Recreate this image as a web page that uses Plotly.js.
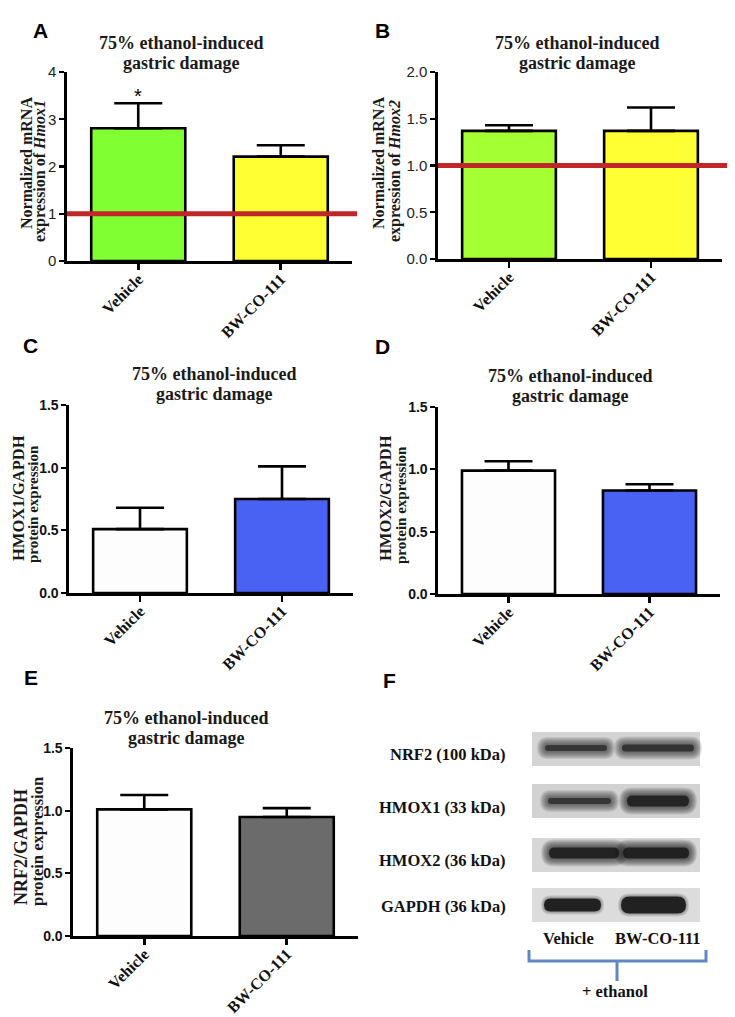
<!DOCTYPE html>
<html>
<head>
<meta charset="utf-8">
<script src="https://cdn.plot.ly/plotly-3.0.1.min.js"></script>
<style>html,body{margin:0;padding:0;background:#fff;}#chart{width:735px;height:1017px;}</style>
</head>
<body>
<div id="chart"></div>
<script>
// ---------------- data ----------------
const categories = ['Vehicle', 'BW-CO-111'];

const hmox1Mrna = [2.81, 2.21];
const hmox1MrnaSem = [0.53, 0.24];
const hmox2Mrna = [1.37, 1.37];
const hmox2MrnaSem = [0.06, 0.25];
const mrnaReference = 1.0;

const hmox1Protein = [0.51, 0.75];
const hmox1ProteinSem = [0.17, 0.26];
const hmox2Protein = [0.99, 0.83];
const hmox2ProteinSem = [0.075, 0.05];
const nrf2Protein = [1.01, 0.95];
const nrf2ProteinSem = [0.115, 0.07];

const blotLabels = ['NRF2 (100 kDa)', 'HMOX1 (33 kDa)', 'HMOX2 (36 kDa)', 'GAPDH (36 kDa)'];
const blotIntensity = [[0.72, 0.76], [0.74, 0.88], [0.9, 0.92], [1.0, 1.0]];
const blotLanes = ['Vehicle', 'BW-CO-111'];
const panelTitle = ['75% ethanol-induced', 'gastric damage'];

// ---------------- helpers ----------------
const W = 735, H = 1017;
const PX = x => x / W;
const PY = y => 1 - y / H;
const SERIF = 'Liberation Serif, Times New Roman, serif';
const SANS = 'Liberation Sans, Arial, sans-serif';

const traces = [];
const shapes = [];
const annotations = [];

function barTrace(ax, vals, sems, colors) {
  return {
    type: 'bar', x: categories, y: vals,
    xaxis: 'x' + ax, yaxis: 'y' + ax,
    width: 0.66,
    marker: {color: colors, line: {color: '#000', width: 2.6}},
    error_y: {type: 'data', symmetric: false, array: sems, arrayminus: sems.map(() => 0),
              color: '#000', thickness: 2.6, width: 24},
    hoverinfo: 'skip', showlegend: false
  };
}

traces.push(barTrace('', hmox1Mrna, hmox1MrnaSem, ['#80ff33', '#ffff33']));
traces.push(barTrace('2', hmox2Mrna, hmox2MrnaSem, ['#a4ff33', '#ffff33']));
traces.push(barTrace('3', hmox1Protein, hmox1ProteinSem, ['#fdfdfd', '#4a62f4']));
traces.push(barTrace('4', hmox2Protein, hmox2ProteinSem, ['#fdfdfd', '#4a62f4']));
traces.push(barTrace('5', nrf2Protein, nrf2ProteinSem, ['#fdfdfd', '#6b6b6b']));

function xAxis(dom, anchor) {
  return {
    domain: [PX(dom[0]), PX(dom[1])], anchor: anchor, type: 'category',
    range: [-0.5, 1.5], showline: true, linecolor: '#000', linewidth: 2.6,
    ticks: 'outside', ticklen: 6, tickwidth: 2.6, tickcolor: '#000',
    ticklabelstandoff: -6,
    tickangle: -45, tickfont: {family: SERIF, size: 16, weight: 'bold', color: '#111'},
    showgrid: false, zeroline: false, fixedrange: true
  };
}
function yAxis(dom, anchor, range, dtick, fmt, bold) {
  return {
    domain: [PY(dom[1]), PY(dom[0])], anchor: anchor, range: range, dtick: dtick,
    tickformat: fmt, showline: true, linecolor: '#000', linewidth: 2.6,
    ticks: 'outside', ticklen: 5, tickwidth: 2.2, tickcolor: '#000',
    tickfont: {family: SANS, size: bold ? 14 : 15, weight: bold ? 'bold' : 'normal', color: bold ? '#111' : '#222'},
    showgrid: false, zeroline: false, fixedrange: true
  };
}

const layout = {
  width: W, height: H, margin: {l: 0, r: 0, t: 0, b: 0},
  paper_bgcolor: '#fff', plot_bgcolor: 'rgba(0,0,0,0)', showlegend: false,
  xaxis: xAxis([67, 352], 'y'),
  yaxis: yAxis([72, 261], 'x', [0, 4], 1, 'd', false),
  xaxis2: xAxis([438, 722], 'y2'),
  yaxis2: yAxis([72, 259], 'x2', [0, 2], 0.5, '.1f', false),
  xaxis3: xAxis([69, 353], 'y3'),
  yaxis3: yAxis([405, 593], 'x3', [0, 1.5], 0.5, '.1f', true),
  xaxis4: xAxis([438, 720], 'y4'),
  yaxis4: yAxis([407, 594], 'x4', [0, 1.5], 0.5, '.1f', true),
  xaxis5: xAxis([73, 358], 'y5'),
  yaxis5: yAxis([748, 936], 'x5', [0, 1.5], 0.5, '.1f', true)
};

// reference lines at 1.0 (mRNA panels)
[['x', 'y'], ['x2', 'y2']].forEach(([xa, ya]) => {
  shapes.push({type: 'line', xref: xa + ' domain', yref: ya, x0: 0, x1: 1.018,
               y0: mrnaReference, y1: mrnaReference, layer: 'above',
               line: {color: '#c0272a', width: 5}});
});

function ann(text, x, y, opts) {
  annotations.push(Object.assign({text: text, x: PX(x), y: PY(y), xref: 'paper', yref: 'paper',
    showarrow: false, xanchor: 'center', yanchor: 'middle'}, opts));
}
const letterFont = {family: SANS, size: 21, weight: 'bold', color: '#000'};
const titleFont = {family: SERIF, size: 18, weight: 'bold', color: '#1a1a1a'};

// panel letters
[['A', 40, 31], ['B', 383, 31], ['C', 31, 345], ['D', 383, 346], ['E', 31, 677], ['F', 389, 680]]
  .forEach(([t, x, y]) => ann(t, x, y, {font: letterFont}));

// panel titles
[[181, 43], [577, 43], [214, 374], [570, 376], [186, 718]].forEach(([x, y]) => {
  ann(panelTitle[0], x, y, {font: titleFont});
  ann(panelTitle[1], x, y + 20, {font: titleFont});
});

// y axis titles
function yTitle(l1, l2, x1, y1, x2, y2, s1, s2) {
  ann(l1, x1, y1, {textangle: -90, font: {family: SERIF, size: s1, weight: 'bold', color: '#1a1a1a'}});
  ann(l2, x2, y2, {textangle: -90, font: {family: SERIF, size: s2, weight: 'bold', color: '#1a1a1a'}});
}
yTitle('Normalized mRNA', 'expression of <i>Hmox1</i>', 26, 163, 40, 171, 16, 16);
yTitle('Normalized mRNA', 'expression of <i>Hmox2</i>', 378, 163, 395, 171, 16, 16);
yTitle('HMOX1/GAPDH', 'protein expression', 18, 498, 33, 504, 16.5, 15);
yTitle('HMOX2/GAPDH', 'protein expression', 385, 498, 401, 505, 16.5, 15);
yTitle('NRF2/GAPDH', 'protein expression', 21, 847, 37, 842, 18, 16.5);

// significance asterisk (above Vehicle error bar, panel A)
annotations.push({text: '*', x: categories[0], y: hmox1Mrna[0] + hmox1MrnaSem[0], xref: 'x', yref: 'y',
  yanchor: 'bottom', yshift: -6, showarrow: false, font: {family: SANS, size: 20, color: '#000'}});

// ---------------- panel F: western blot ----------------
const blotGeom = {
  x0: 532, x1: 700,
  rows: [
    {y0: 732, y1: 766, yc: 748, bg: '#d4d4d4', lanes: [[545, 607, 3], [622, 694, 3.5]]},
    {y0: 784, y1: 818, yc: 801, bg: '#d2d2d2', lanes: [[548, 611, 3], [627, 689, 5.5]]},
    {y0: 838, y1: 872, yc: 853, bg: '#d7d7d7', lanes: [[549, 619, 5.5], [623, 689, 5.5]]},
    {y0: 888, y1: 922, yc: 905, bg: '#dcdcdc', lanes: [[544, 601, 6.5], [621, 686, 8.5]]}
  ]
};
function bandPath(x0, x1, yc, h) {
  const r = Math.min(h, (x1 - x0) / 2);
  const pts = (x, y) => PX(x).toFixed(5) + ',' + PY(y).toFixed(5);
  return 'M' + pts(x0 + r, yc - h) + ' L' + pts(x1 - r, yc - h) +
    ' Q' + pts(x1, yc - h) + ' ' + pts(x1, yc) + ' Q' + pts(x1, yc + h) + ' ' + pts(x1 - r, yc + h) +
    ' L' + pts(x0 + r, yc + h) + ' Q' + pts(x0, yc + h) + ' ' + pts(x0, yc) +
    ' Q' + pts(x0, yc - h) + ' ' + pts(x0 + r, yc - h) + ' Z';
}
blotGeom.rows.forEach((row, i) => {
  shapes.push({type: 'rect', xref: 'paper', yref: 'paper', x0: PX(blotGeom.x0), x1: PX(blotGeom.x1),
    y0: PY(row.y1), y1: PY(row.y0), fillcolor: row.bg, line: {width: 0}, layer: 'below'});
  row.lanes.forEach((ln, j) => {
    const inten = blotIntensity[i][j];
    const v = Math.round(12 + 120 * (1 - inten));
    const core = 'rgb(' + v + ',' + v + ',' + v + ')';
    const soft = i === 3 ? 3 : 8;
    for (let k = soft; k >= 1; k--) {
      shapes.push({type: 'path', xref: 'paper', yref: 'paper',
        path: bandPath(ln[0] - k, ln[1] + k, row.yc, ln[2] + k),
        fillcolor: core, opacity: 0.11, line: {width: 0}, layer: 'below'});
    }
    shapes.push({type: 'path', xref: 'paper', yref: 'paper',
      path: bandPath(ln[0], ln[1], row.yc, ln[2]),
      fillcolor: core, opacity: 0.85, line: {width: 0}, layer: 'below'});
  });
  ann(blotLabels[i], 508, [754, 807, 860, 906][i],
      {xanchor: 'right', font: {family: SERIF, size: 16.5, weight: 'bold', color: '#111'}});
});
ann(blotLanes[0], 568, 938, {font: {family: SERIF, size: 16.5, weight: 'bold', color: '#111'}});
ann(blotLanes[1], 658, 938, {font: {family: SERIF, size: 16.5, weight: 'bold', color: '#111'}});
ann('+ ethanol', 615, 991, {font: {family: SERIF, size: 16.5, weight: 'bold', color: '#111'}});
// bracket
const bc = '#5f87c6';
shapes.push({type: 'path', xref: 'paper', yref: 'paper',
  path: 'M' + PX(529) + ',' + PY(950) + ' L' + PX(529) + ',' + PY(961) + ' L' + PX(706) + ',' + PY(961) +
        ' L' + PX(706) + ',' + PY(950),
  line: {color: bc, width: 3}});
shapes.push({type: 'line', xref: 'paper', yref: 'paper', x0: PX(617), x1: PX(617), y0: PY(961), y1: PY(981),
  line: {color: bc, width: 3}});

layout.shapes = shapes;
layout.annotations = annotations;

Plotly.newPlot('chart', traces, layout, {staticPlot: true, displayModeBar: false});
</script>
</body>
</html>
